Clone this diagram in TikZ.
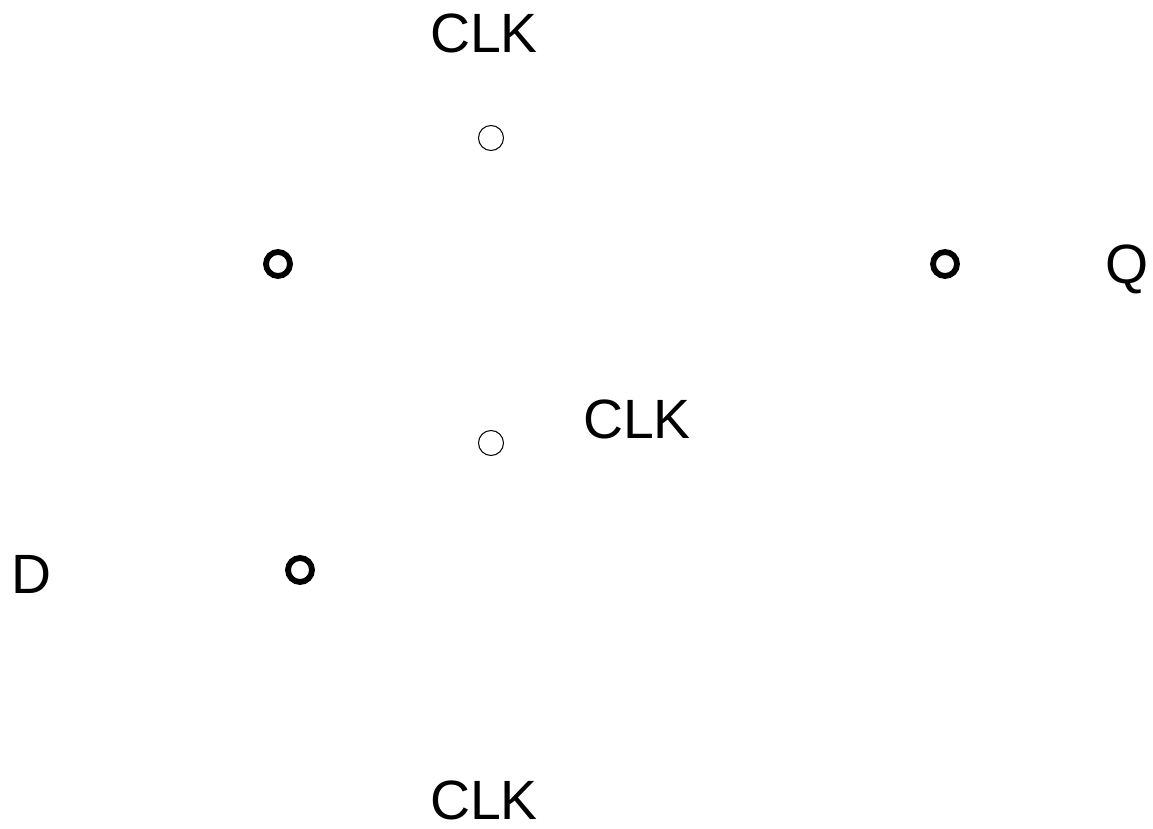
\documentclass[tikz,border=0pt]{standalone}
\usepackage{fontspec}
\setmainfont{Liberation Sans}
\usepackage{tikz}
\usetikzlibrary{positioning}

\tikzset{
    pinlabel/.style={inner sep=0pt, font=\fontsize{31.5}{36}\selectfont},
    clkpin/.style={circle, draw, line width=0.6pt, minimum size=0.5cm, inner sep=0pt},
    invpin/.style={circle, draw, line width=3.3pt, minimum size=0.48cm, inner sep=0pt}
}

\begin{document}
\begin{tikzpicture}
    \useasboundingbox (0,0) rectangle (23.06,16.56);

    % clock labels
    \node[pinlabel] (clktop) at (9.68,15.9) {CLK};
    \node[pinlabel] (clkmid) at (12.74,8.18) {CLK};
    \node[pinlabel] (clkbot) at (9.68,0.55) {CLK};

    % clock inputs
    \node[clkpin] (clkinA) at (9.82,13.8) {};
    \node[clkpin] (clkinB) at (9.82,7.7) {};

    % inverting pins
    \node[invpin] (invA) at (5.56,11.28) {};
    \node[invpin] (invB) at (18.9,11.28) {};
    \node[invpin] (invC) at (6.0,5.16) {};

    % data in / out
    \node[pinlabel] (qout) at (22.54,11.17) {Q};
    \node[pinlabel] (din) at (0.62,5.08) {D};
\end{tikzpicture}
\end{document}
